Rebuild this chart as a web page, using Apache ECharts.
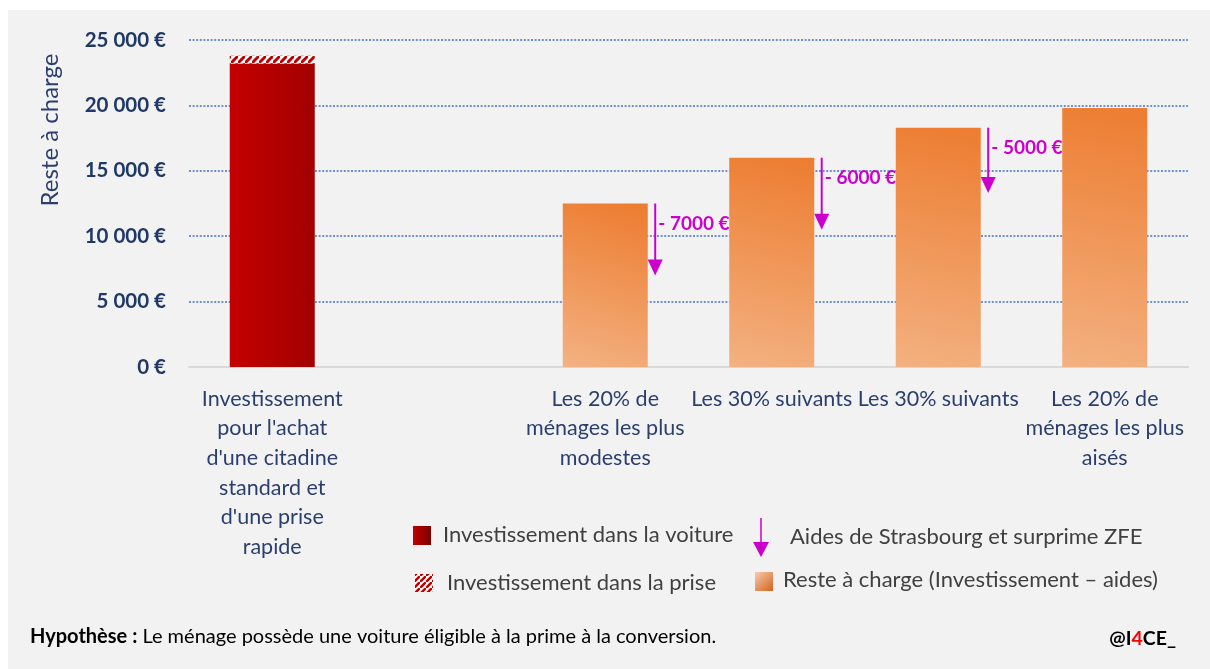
<!DOCTYPE html>
<html>
<head>
<meta charset="utf-8">
<title>Reste à charge</title>
<script src="https://cdn.jsdelivr.net/npm/echarts@6/dist/echarts.min.js"></script>
<style>
  html, body { margin: 0; padding: 0; background: #ffffff; }
  #chart { width: 1210px; height: 669px; }
</style>
</head>
<body>
<div id="chart"></div>
<script>
// categories (second slot is left empty as a gap)
var categories = [
  "Investissement\npour l'achat\nd'une citadine\nstandard et\nd'une prise\nrapide",
  "",
  "Les 20% de\nménages les plus\nmodestes",
  "Les 30% suivants",
  "Les 30% suivants",
  "Les 20% de\nménages les plus\naisés"
];
var carValues = [23200, null, null, null, null, null];
var plugValues = [600, null, null, null, null, null];
var resteValues = [null, null, 12500, 16000, 18300, 19800];

// aid arrows: category index, start value (bar top), arrow tip value
var aidCats = [2, 3, 4];
var aidStart = [12500, 16000, 18300];
var aidEnd = [7000, 10500, 13300];
var aidLabels = ["- 7000 €", "- 6000 €", "- 5000 €"];

var yTicks = { min: 0, max: 25000, interval: 5000 };

var FONT = "Lato, 'Noto Sans', sans-serif";
var MAGENTA = "#cc00cc";
var NAVY = "#1f3864";

function hatchCanvas(size) {
  var c = document.createElement("canvas");
  c.width = size; c.height = size;
  var ctx = c.getContext("2d");
  ctx.fillStyle = "#ffffff";
  ctx.fillRect(0, 0, size, size);
  ctx.strokeStyle = "#c00000";
  ctx.lineWidth = size * 0.42;
  ctx.beginPath();
  ctx.moveTo(-size, size * 2); ctx.lineTo(size * 2, -size);
  ctx.moveTo(-size * 2, size); ctx.lineTo(size, -size * 2);
  ctx.moveTo(0, size * 3); ctx.lineTo(size * 3, 0);
  ctx.stroke();
  return c;
}
var hatch = hatchCanvas(7);

var redFill = new echarts.graphic.LinearGradient(0, 0, 1, 0, [
  { offset: 0, color: "#c40000" }, { offset: 1, color: "#a30000" }
]);
var orangeFill = new echarts.graphic.LinearGradient(0.8, 0, 0.2, 1, [
  { offset: 0, color: "#ed7d31" }, { offset: 1, color: "#f3b080" }
]);

var arrowData = aidCats.map(function (c, i) { return [c, aidStart[i], aidEnd[i]]; });

var myChart = echarts.init(document.getElementById("chart"), null, { renderer: "canvas" });

var option = {
  backgroundColor: "#ffffff",
  animation: false,
  grid: { left: 189, right: 22, top: 40, bottom: 302 },
  xAxis: {
    type: "category",
    data: categories,
    axisTick: { show: false },
    axisLine: { show: true, lineStyle: { color: "#d9d9d9", width: 2 } },
    axisLabel: {
      interval: 0,
      margin: 17,
      color: "#2b3f6e",
      fontFamily: FONT,
      fontSize: 21.5,
      lineHeight: 29.6
    }
  },
  yAxis: {
    type: "value",
    min: yTicks.min,
    max: yTicks.max,
    interval: yTicks.interval,
    axisLine: { show: false },
    axisTick: { show: false },
    axisLabel: {
      margin: 23,
      color: NAVY,
      fontFamily: FONT,
      fontWeight: "bold",
      fontSize: 20.5,
      formatter: function (v) {
        return String(v).replace(/\B(?=(\d{3})+(?!\d))/g, " ") + " €";
      }
    },
    splitLine: {
      lineStyle: { color: "#4472c4", width: 1.6, type: [2, 1.6] }
    }
  },
  series: [
    {
      name: "Investissement dans la voiture",
      type: "bar",
      stack: "a",
      barWidth: 85,
      z: 3,
      data: carValues,
      itemStyle: { color: redFill }
    },
    {
      name: "Investissement dans la prise",
      type: "bar",
      stack: "a",
      barWidth: 85,
      z: 3,
      data: plugValues,
      itemStyle: { color: { image: hatch, repeat: "repeat" } }
    },
    {
      name: "Reste à charge",
      type: "bar",
      stack: "a",
      barWidth: 85,
      z: 3,
      data: resteValues,
      itemStyle: { color: orangeFill }
    },
    {
      name: "Aides",
      type: "custom",
      data: arrowData,
      z: 2,
      renderItem: function (params, api) {
        var top = api.coord([api.value(0), api.value(1)]);
        var tip = api.coord([api.value(0), api.value(2)]);
        var x = top[0] + api.size([1, 0])[0] * 0.3;
        return {
          type: "group",
          children: [
            {
              type: "line",
              shape: { x1: x, y1: top[1], x2: x, y2: tip[1] - 12 },
              style: { stroke: MAGENTA, lineWidth: 2 }
            },
            {
              type: "polygon",
              shape: { points: [[x - 7.5, tip[1] - 16], [x + 7.5, tip[1] - 16], [x, tip[1]]] },
              style: { fill: MAGENTA }
            },
            {
              type: "text",
              style: {
                text: aidLabels[params.dataIndex],
                x: x + 3,
                y: top[1] + 20,
                verticalAlign: "middle",
                fill: MAGENTA,
                font: "bold 19px " + FONT
              }
            }
          ]
        };
      }
    }
  ],
  graphic: [
    {
      type: "rect", z: -10, silent: true,
      shape: { x: 8, y: 10, width: 1202, height: 659 },
      style: { fill: "#f2f2f2" }
    },
    {
      type: "text", x: 50, y: 130, rotation: Math.PI / 2,
      style: { text: "Reste à charge", fill: "#2b3f6e", font: "24px " + FONT, align: "center", verticalAlign: "middle" }
    },
    // legend row 1
    {
      type: "rect", shape: { x: 413, y: 526, width: 18, height: 19 },
      style: { fill: new echarts.graphic.LinearGradient(0, 0, 1, 0, [{ offset: 0, color: "#c00000" }, { offset: 1, color: "#7a0000" }]) }
    },
    {
      type: "text", x: 443, y: 535,
      style: { text: "Investissement dans la voiture", fill: "#404040", font: "22px " + FONT, verticalAlign: "middle" }
    },
    {
      type: "line", shape: { x1: 761, y1: 518, x2: 761, y2: 545 },
      style: { stroke: MAGENTA, lineWidth: 1.5 }
    },
    {
      type: "polygon", shape: { points: [[753, 542], [769, 542], [761, 557]] },
      style: { fill: MAGENTA }
    },
    {
      type: "text", x: 790, y: 537,
      style: { text: "Aides de Strasbourg et surprime ZFE", fill: "#404040", font: "22px " + FONT, verticalAlign: "middle" }
    },
    // legend row 2
    {
      type: "rect", shape: { x: 415, y: 574, width: 18, height: 18 },
      style: { fill: { image: hatchCanvas(6), repeat: "repeat" } }
    },
    {
      type: "text", x: 447, y: 583,
      style: { text: "Investissement dans la prise", fill: "#404040", font: "22px " + FONT, verticalAlign: "middle" }
    },
    {
      type: "rect", shape: { x: 755, y: 572, width: 18, height: 19 },
      style: { fill: new echarts.graphic.LinearGradient(0, 0, 1, 1, [{ offset: 0, color: "#f8cbad" }, { offset: 1, color: "#d2641c" }]) }
    },
    {
      type: "text", x: 783, y: 580,
      style: { text: "Reste à charge (Investissement – aides)", fill: "#404040", font: "22px " + FONT, verticalAlign: "middle" }
    },
    // footer
    {
      type: "text", x: 30, y: 637,
      style: {
        text: "{b|Hypothèse :} Le ménage possède une voiture éligible à la prime à la conversion.",
        fill: "#000000", font: "20px " + FONT, verticalAlign: "middle",
        rich: { b: { fontWeight: "bold", fontSize: 20, fontFamily: FONT, fill: "#000000" } }
      }
    },
    {
      type: "text", x: 1176, y: 639,
      style: {
        text: "@I{r|4}CE_",
        fill: "#000000", font: "bold 19.5px " + FONT, align: "right", verticalAlign: "middle",
        rich: { r: { fontWeight: "bold", fontSize: 19.5, fontFamily: FONT, fill: "#ff0000" } }
      }
    }
  ]
};
myChart.setOption(option);
</script>
</body>
</html>
